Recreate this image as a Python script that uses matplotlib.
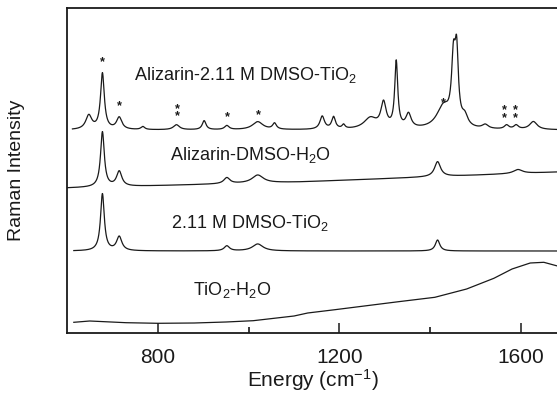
import numpy as np
import matplotlib
matplotlib.use("Agg")
import matplotlib.pyplot as plt
from matplotlib.ticker import FixedLocator

plt.rcParams['font.family'] = ['Liberation Sans', 'DejaVu Sans']
plt.rcParams['mathtext.fontset'] = 'custom'
plt.rcParams['mathtext.rm'] = 'Liberation Sans'
plt.rcParams['mathtext.it'] = 'Liberation Sans:italic'

# ---- data (intensity in arbitrary offset units) ----
labels = ["Alizarin-2.11 M DMSO-TiO$_2$", "Alizarin-DMSO-H$_2$O",
          "2.11 M DMSO-TiO$_2$", "TiO$_2$-H$_2$O"]

# Alizarin-2.11 M DMSO-TiO2: peak positions, heights, half-widths
a1_pos = [648, 678, 715, 767, 841, 902, 952, 1020, 1057, 1162, 1187, 1209,
          1268, 1297, 1325, 1352, 1429, 1451, 1458, 1476, 1521, 1568, 1589, 1627]
a1_hgt = [14, 56, 12, 3, 5, 9, 4, 8, 6, 13, 12, 4,
          11, 25, 66, 14, 22, 60, 66, 10, 4, 4, 4, 8]
a1_wid = [8, 5, 7, 5, 8, 5, 6, 14, 5, 6, 5, 4,
          17, 7, 4, 7, 18, 5, 4.5, 8, 8, 6, 6, 10]
a1_base_E = [612, 1680]
a1_base_I = [203, 203]

# Alizarin-DMSO-H2O
a2_pos = [678, 715, 952, 1020, 1416, 1593]
a2_hgt = [55, 15, 6, 8, 15, 4]
a2_wid = [5, 7, 8, 15, 8, 12]
a2_base_E = [600, 1110, 1680]
a2_base_I = [145, 151, 161]

# 2.11 M DMSO-TiO2
a3_pos = [678, 715, 952, 1020, 1416]
a3_hgt = [57, 14, 5, 7, 11]
a3_wid = [5, 7, 7, 14, 6]
a3_base_E = [615, 1680]
a3_base_I = [82, 82]

# TiO2-H2O (read point by point)
t_E = [615, 650, 730, 800, 880, 950, 1010, 1100, 1130, 1190, 1260, 1330,
       1410, 1480, 1540, 1580, 1620, 1650, 1680]
t_I = [10.7, 12.0, 10.3, 9.7, 10.0, 11.0, 12.3, 17.0, 20.0, 23.3, 27.3, 31.3,
       35.7, 44.0, 54.7, 64.0, 70.0, 70.7, 67.0]

# asterisk markers: (energy, intensity)
star_E = [678, 716, 842, 842, 953, 1021, 1428, 1564, 1587, 1564, 1587]
star_I = [272, 228, 225, 218, 217, 219, 231, 224, 224, 216, 216]


def spectrum(base_E, base_I, pos, hgt, wid):
    E = np.linspace(base_E[0], base_E[-1], 3000)
    y = np.interp(E, base_E, base_I)
    for p, h, w in zip(pos, hgt, wid):
        y = y + h * w**2 / ((E - p)**2 + w**2)
    return E, y


fig = plt.figure(figsize=(5.57, 4.10), dpi=100)
ax = fig.add_axes([67/557, 76/410, 1 - 67/557, (334 - 9)/410])

lc = '#1a1a1a'
lw = 0.9
for args in [(a1_base_E, a1_base_I, a1_pos, a1_hgt, a1_wid),
             (a2_base_E, a2_base_I, a2_pos, a2_hgt, a2_wid),
             (a3_base_E, a3_base_I, a3_pos, a3_hgt, a3_wid)]:
    E, y = spectrum(*args)
    ax.plot(E, y, color=lc, lw=lw)
ax.plot(t_E, t_I, color=lc, lw=lw)

for e, i in zip(star_E, star_I):
    ax.text(e, i, '*', ha='center', va='center', fontsize=9, color=lc,
            fontweight='bold')

txt_pos = [(748, 254), (827, 174), (829, 106), (878, 39)]
for lab, (e, i) in zip(labels, txt_pos):
    ax.text(e, i, lab, ha='left', va='baseline', fontsize=13, color=lc)

ax.set_xlim(600, 1679)
ax.set_ylim(0, 325)
ax.spines['right'].set_visible(False)
for s in ['left', 'bottom', 'top']:
    ax.spines[s].set_linewidth(1.3)
    ax.spines[s].set_color(lc)

ax.xaxis.set_major_locator(FixedLocator([800, 1200, 1600]))
ax.xaxis.set_minor_locator(FixedLocator([1000, 1400]))
ax.tick_params(axis='x', which='major', direction='in', length=7, width=1.1,
               labelsize=15, pad=10, colors=lc)
ax.tick_params(axis='x', which='minor', direction='in', length=4, width=1.1)
ax.set_yticks([])

fig.text(313/557, 1 - 380/410, 'Energy (cm$^{-1}$)', ha='center', va='center',
         fontsize=15, color=lc)
fig.text(17/557, 1 - 170/410, 'Raman Intensity', ha='center', va='center',
         rotation=90, fontsize=14, color=lc)

fig.savefig('out.png', dpi=100)
